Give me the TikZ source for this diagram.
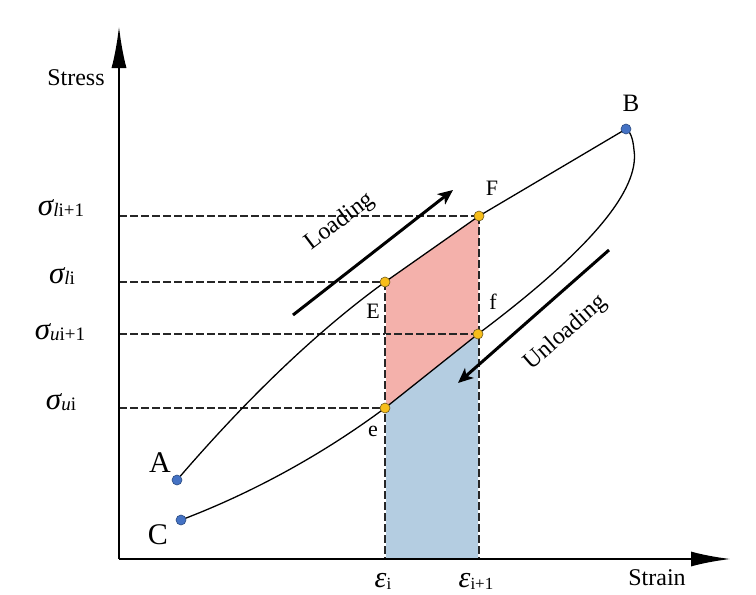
\documentclass[tikz,border=0pt]{standalone}
\usepackage{fontspec}
\setmainfont{Liberation Serif}
\usetikzlibrary{arrows.meta}
\definecolor{pinkfill}{HTML}{F4B1AB}
\definecolor{bluefill}{HTML}{B4CDE1}
\definecolor{dotyellow}{HTML}{F7BE1A}
\definecolor{dotyellowedge}{HTML}{6E5A20}
\definecolor{dotblue}{HTML}{4472C4}
\definecolor{dotblueedge}{HTML}{2A4A80}
\newcommand{\fs}[1]{\fontsize{#1}{#1}\selectfont}
\newcommand{\sigl}[2]{{\fs{31}\itshape σ}\raisebox{-1pt}{\fs{19}\itshape #1\upshape #2}}
\newcommand{\epsl}[1]{{\fs{30}\itshape ε}\raisebox{-2pt}{\fs{17}\upshape #1}}
\begin{document}
\begin{tikzpicture}[x=1pt,y=-1pt,
  axisline/.style={line width=2.6pt},
  guide/.style={line width=1.4pt, dash pattern=on 8pt off 3pt, black!85},
  curve/.style={line width=1.3pt},
  ydot/.style={circle, fill=dotyellow, draw=dotyellowedge, line width=0.6pt, inner sep=0pt, minimum size=10pt},
  bdot/.style={circle, fill=dotblue, draw=dotblueedge, line width=0.6pt, inner sep=0pt, minimum size=10pt},
  dirarrow/.style={line width=3pt, -{Stealth[length=15pt,width=13pt,inset=4pt]}},
  lbl/.style={inner sep=0pt, font=\fs{24}},
  ptlbl/.style={inner sep=0pt, font=\fs{22}}]
\useasboundingbox (0,0) rectangle (756,595);

% key coordinates
\coordinate (O) at (119,559);
\coordinate (Ytip) at (119,26);
\coordinate (Xtip) at (731,559);
\coordinate (A) at (177,480);
\coordinate (C) at (181,520);
\coordinate (B) at (626,129);
\coordinate (E) at (385,282);
\coordinate (F) at (479,216);
\coordinate (e) at (385,408);
\coordinate (f) at (478,334);
\coordinate (K) at (634,150);

% filled regions
\fill[pinkfill] (E) -- (F) -- (f) -- (e) -- cycle;
\fill[bluefill] (e) -- (f) -- (f |- O) -- (e |- O) -- cycle;

% guide lines
\draw[guide] (O |- F) -- (F);
\draw[guide] (O |- E) -- (E);
\draw[guide] (O |- f) -- (f);
\draw[guide] (O |- e) -- (e);
\draw[white, line width=1pt] (E) -- (E |- O);
\draw[white, line width=1pt] (F) -- (F |- O);
\draw[guide] (E) -- (E |- O);
\draw[guide] (F) -- (F |- O);

% curves
\draw[curve] (A) .. controls (250,395) and (320,329) .. (E) -- (F) -- (B);
\draw[curve] (C) .. controls (260,490) and (330,449) .. (e) -- (f)
  .. controls (590,250) and (640,190) .. (K) .. controls (633,138) and (630,131) .. (B);

% axes
\draw[axisline, -{Latex[length=42pt,width=15pt]}] (O) -- (Ytip);
\draw[axisline, -{Latex[length=40pt,width=15pt]}] (O) -- (Xtip);

% direction arrows
\coordinate (L1) at (293,315);
\coordinate (L2) at (453,190);
\coordinate (U1) at (609,250);
\coordinate (U2) at (458,383);
\draw[dirarrow] (L1) -- (L2);
\draw[dirarrow] (U1) -- (U2);
\node[lbl, rotate=37] (loadtxt) at (340,222) {Loading};
\node[lbl, rotate=41] (unloadtxt) at (566,333) {Unloading};

% points
\node[ydot] (dE) at (E) {};
\node[ydot] (dF) at (F) {};
\node[ydot] (de) at (e) {};
\node[ydot] (df) at (f) {};
\node[bdot] (dA) at (A) {};
\node[bdot] (dB) at (B) {};
\node[bdot] (dC) at (C) {};

% point labels
\node[inner sep=0pt, font=\fs{30}] (tA) at (160,463) {A};
\node[inner sep=0pt, font=\fs{30}] (tC) at (158,535) {C};
\node[inner sep=0pt, font=\fs{25}] (tB) at (631,103) {B};
\node[ptlbl] (tE) at (373,311) {E};
\node[ptlbl] (te) at (373,431) {e};
\node[ptlbl] (tF) at (492,188) {F};
\node[ptlbl] (tf) at (493,302) {f};

% axis labels
\node[lbl] (stress) at (76,78) {Stress};
\node[lbl] (strain) at (657,578) {Strain};
\node[inner sep=0pt] (s1) at (61,208) {\sigl{l}{i+1}};
\node[inner sep=0pt] (s2) at (62,276) {\sigl{l}{i}};
\node[inner sep=0pt] (s3) at (60,332) {\sigl{u}{i+1}};
\node[inner sep=0pt] (s4) at (61,402) {\sigl{u}{i}};
\node[inner sep=0pt] (e1) at (383,581) {\epsl{i}};
\node[inner sep=0pt] (e2) at (476,581) {\epsl{i+1}};
\end{tikzpicture}
\end{document}
